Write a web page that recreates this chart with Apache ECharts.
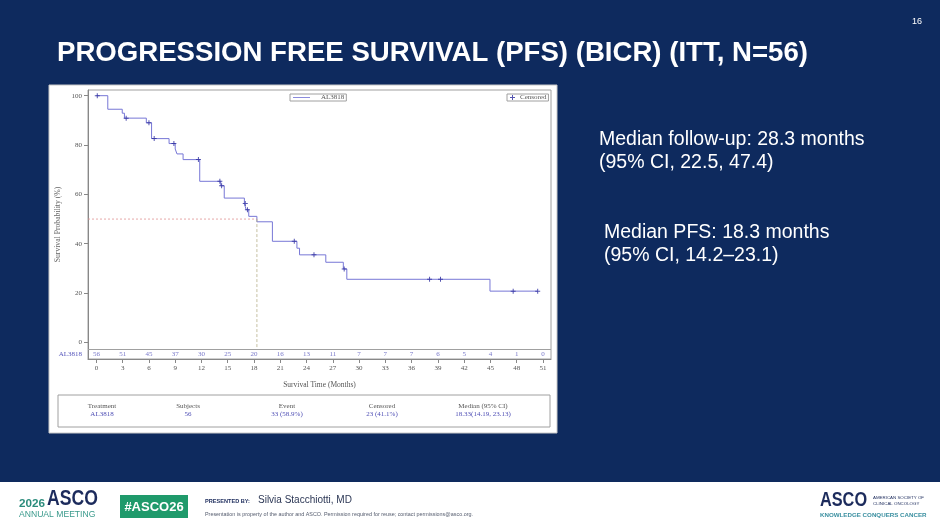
<!DOCTYPE html>
<html lang="en">
<head>
    <meta charset="UTF-8">
    <title>PFS (BICR)</title>
    <script src="https://cdn.jsdelivr.net/npm/echarts@6/dist/echarts.min.js"></script>
    <style>
        html, body { margin: 0; padding: 0; background: #0e2a5e; }
    </style>
</head>
<body>
<div id="main" style="width:940px;height:529px;"></div>
<script>
    // KM curve: time of each drop (months) and survival (%) after it
    var kmTime = [0, 1.3, 2.95, 3.2, 5.7, 6.3, 8.3, 9.0, 9.2, 9.9, 11.8, 14.2, 14.6, 16.9, 17.1, 17.4, 18.33, 20.1, 22.9, 23.2, 26.2, 28.2, 28.6, 44.95, 50.4];
    var kmSurv = [100, 94.5, 92.9, 90.9, 89.0, 82.6, 80.6, 78.4, 76.4, 74.1, 65.3, 63.5, 58.5, 56.3, 53.8, 51.1, 48.9, 41.0, 38.2, 35.5, 32.5, 29.8, 25.6, 20.8, 20.8];
    // censored marks
    var censTime = [0.1, 3.4, 6.0, 6.6, 8.85, 11.65, 14.1, 14.3, 17.0, 17.25, 22.6, 24.85, 28.3, 38.05, 39.3, 47.6, 50.4];
    var censSurv = [100, 90.9, 89.0, 82.6, 80.6, 74.1, 65.3, 63.5, 56.3, 53.8, 41.0, 35.5, 29.8, 25.6, 25.6, 20.8, 20.8];
    // number at risk
    var xTicks = [0, 3, 6, 9, 12, 15, 18, 21, 24, 27, 30, 33, 36, 39, 42, 45, 48, 51];
    var atRisk = [56, 51, 45, 37, 30, 25, 20, 16, 13, 11, 7, 7, 7, 6, 5, 4, 1, 0];
    var yTicks = [0, 20, 40, 60, 80, 100];
    var medianPFS = 18.33;

    var tableHead = ['Treatment', 'Subjects', 'Event', 'Censored', 'Median (95% CI)'];
    var tableRow = ['AL3818', '56', '33 (58.9%)', '23 (41.1%)', '18.33(14.19, 23.13)'];
    var tableX = [102, 188, 287, 382, 483];

    var serif = '"Liberation Serif", "DejaVu Serif", serif';
    var sans = '"Liberation Sans", Arial, sans-serif';
    var riskY = -4.7;   // row of the at-risk numbers, in axis units
    var sepY = -2.6;

    var kmData = kmTime.map(function (t, i) { return [t, kmSurv[i]]; });
    var censData = censTime.map(function (t, i) { return [t, censSurv[i]]; });
    var riskData = xTicks.map(function (t, i) { return [t, riskY, atRisk[i]]; });

    var chart = echarts.init(document.getElementById('main'));

    var graphics = [
        // white picture box
        { type: 'rect', z: -10, silent: true, shape: { x: 49, y: 85, width: 508, height: 348 },
          style: { fill: '#ffffff', stroke: '#c8c8c8', lineWidth: 1 } },
        // footer strip
        { type: 'rect', z: -10, silent: true, shape: { x: 0, y: 482, width: 940, height: 47 },
          style: { fill: '#ffffff' } },
        // title
        { type: 'text', left: 57, top: 39, style: { text: 'PROGRESSION FREE SURVIVAL (PFS) (BICR) (ITT, N=56)',
          fill: '#ffffff', font: 'bold 27.6px ' + sans } },
        { type: 'text', left: 912, top: 17, style: { text: '16', fill: '#ffffff', font: '9px ' + sans } },
        // right side notes
        { type: 'text', left: 599, top: 128, style: { text: 'Median follow-up: 28.3 months\n(95% CI, 22.5, 47.4)',
          fill: '#ffffff', font: '19.5px ' + sans, lineHeight: 23 } },
        { type: 'text', left: 604, top: 221, style: { text: 'Median PFS: 18.3 months\n(95% CI, 14.2\u201323.1)',
          fill: '#ffffff', font: '19.5px ' + sans, lineHeight: 23 } },
        // summary table
        { type: 'rect', shape: { x: 58, y: 395, width: 492, height: 32 },
          style: { fill: 'none', stroke: '#a0a0a0', lineWidth: 1 } },
        // footer items
        { type: 'text', left: 19, top: 498, style: { text: '2026', fill: '#2b8c7c', font: 'bold 11.7px ' + sans } },
        { type: 'text', x: 47, y: 510, scaleY: 1.25, style: { text: 'ASCO', fill: '#1c2b5c', font: 'bold 17.6px ' + sans,
          verticalAlign: 'bottom' } },
        { type: 'text', left: 19, top: 510, style: { text: 'ANNUAL MEETING', fill: '#3a9a8c', font: '8.6px ' + sans } },
        { type: 'rect', shape: { x: 120, y: 495, width: 68, height: 23 }, style: { fill: '#1f9a6b' } },
        { type: 'text', x: 154, y: 507, style: { text: '#ASCO26', fill: '#ffffff', font: 'bold 13px ' + sans,
          align: 'center', verticalAlign: 'middle' } },
        { type: 'text', left: 205, top: 498, style: { text: 'PRESENTED BY:', fill: '#1c2b5c', font: 'bold 5.6px ' + sans } },
        { type: 'text', left: 258, top: 495, style: { text: 'Silvia Stacchiotti, MD', fill: '#2c3755', font: '10px ' + sans } },
        { type: 'text', left: 205, top: 512, style: { text: 'Presentation is property of the author and ASCO. Permission required for reuse; contact permissions@asco.org.',
          fill: '#555c6e', font: '5.4px ' + sans } },
        { type: 'text', x: 820, y: 510, scaleY: 1.25, style: { text: 'ASCO', fill: '#1c2b5c', font: 'bold 16.3px ' + sans,
          verticalAlign: 'bottom' } },
        { type: 'text', left: 873, top: 495, style: { text: 'AMERICAN SOCIETY OF\nCLINICAL ONCOLOGY', fill: '#1c2b5c',
          font: '4.4px ' + sans, lineHeight: 6 } },
        { type: 'text', left: 820, top: 512, style: { text: 'KNOWLEDGE CONQUERS CANCER', fill: '#3a8fa0', font: 'bold 6.2px ' + sans } }
    ];
    tableHead.forEach(function (h, i) {
        graphics.push({ type: 'text', x: tableX[i], y: 406, style: { text: h, fill: '#555555',
            font: '7px ' + serif, align: 'center', verticalAlign: 'middle' } });
        graphics.push({ type: 'text', x: tableX[i], y: 414.5, style: { text: tableRow[i], fill: '#4f4fb5',
            font: '7px ' + serif, align: 'center', verticalAlign: 'middle' } });
    });

    var options = {
        backgroundColor: '#0e2a5e',
        animation: false,
        graphic: graphics,
        legend: [
            {
                data: [{ name: 'AL3818', icon: 'path://M0,0h40v2h-40z' }], left: 290, top: 94,
                itemWidth: 17, itemHeight: 1, padding: [0, 2, 0, 3], borderColor: '#a0a0a0', borderWidth: 1,
                textStyle: { fontSize: 7, fontFamily: serif, color: '#555', padding: [1, 0, 0, 6] }
            },
            {
                data: ['Censored'], left: 507, top: 94, itemWidth: 5, itemHeight: 5,
                padding: [0, 2, 0, 3], borderColor: '#a0a0a0', borderWidth: 1,
                textStyle: { fontSize: 7, fontFamily: serif, color: '#555', padding: [1, 0, 0, 0] }
            }
        ],
        grid: {
            left: 88, right: 389, top: 90, bottom: 170, show: true,
            borderColor: '#a0a0a0', borderWidth: 1, backgroundColor: 'transparent'
        },
        xAxis: {
            type: 'value', min: -0.96, max: 51.92,
            name: 'Survival Time (Months)', nameLocation: 'middle', nameGap: 22,
            nameTextStyle: { fontSize: 7.5, fontFamily: serif, color: '#555' },
            axisLine: { onZero: false, lineStyle: { color: '#888' } },
            axisTick: { customValues: xTicks, length: 4, lineStyle: { color: '#888' } },
            axisLabel: { customValues: xTicks, fontSize: 7, fontFamily: serif, color: '#555', margin: 6 },
            splitLine: { show: false }
        },
        yAxis: {
            type: 'value', min: -6.7, max: 102.3,
            name: 'Survival Probability (%)', nameLocation: 'middle', nameGap: 26, nameMoveOverlap: false,
            nameTextStyle: { fontSize: 7.7, fontFamily: serif, color: '#666' },
            axisLine: { show: true, onZero: false, lineStyle: { color: '#888' } },
            axisTick: { show: true, customValues: yTicks, length: 4, lineStyle: { color: '#888' } },
            axisLabel: {
                customValues: [riskY].concat(yTicks), fontSize: 7, fontFamily: serif, color: '#555', margin: 6,
                formatter: function (v) { return v < 0 ? '{g|AL3818}' : String(v); },
                rich: { g: { fontSize: 7, fontFamily: serif, color: '#5555bb' } }
            },
            splitLine: { show: false }
        },
        series: [
            {
                name: 'AL3818', type: 'line', step: 'end', symbol: 'none',
                lineStyle: { color: '#7777d6', width: 1 }, itemStyle: { color: '#7777d6' },
                data: kmData, z: 3
            },
            {
                name: 'Censored', type: 'scatter', symbol: 'path://M4,0h2v4h4v2h-4v4h-2v-4h-4v-2h4z',
                symbolSize: 5, itemStyle: { color: '#2b2b9e' }, data: censData, z: 4
            },
            {
                name: 'medianH', type: 'line', symbol: 'none', silent: true,
                lineStyle: { color: '#e09090', width: 0.8, type: [2, 2] },
                data: [[-0.96, 50], [medianPFS, 50]]
            },
            {
                name: 'medianV', type: 'line', symbol: 'none', silent: true,
                lineStyle: { color: '#b8b08a', width: 0.8, type: [3, 2] },
                data: [[medianPFS, 50], [medianPFS, sepY]]
            },
            {
                name: 'atRisk', type: 'scatter', symbolSize: 1, silent: true,
                itemStyle: { color: 'transparent' },
                label: {
                    show: true, position: 'inside', fontSize: 7, fontFamily: serif, color: '#5555bb',
                    formatter: function (p) { return p.value[2]; }
                },
                markLine: {
                    silent: true, symbol: 'none', label: { show: false },
                    lineStyle: { color: '#a0a0a0', width: 1, type: 'solid' },
                    data: [{ yAxis: sepY }]
                },
                data: riskData
            }
        ]
    };
    chart.setOption(options);
</script>
</body>
</html>
